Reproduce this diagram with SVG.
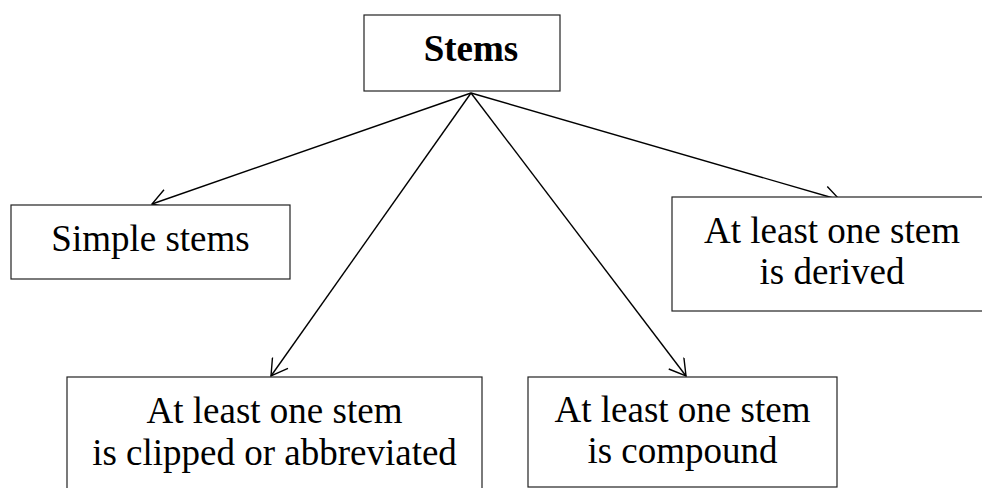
<svg xmlns="http://www.w3.org/2000/svg" width="982" height="488" viewBox="0 0 982 488">
  <defs>
    <style>
      .box { fill: #ffffff; stroke: #222222; stroke-width: 1.2; }
      .lbl { font-size: 37px; fill: #000000; text-anchor: middle; }
      .bold { font-weight: bold; }
      .edge { fill: none; stroke: #000000; stroke-width: 1.4; }
    </style>
    <marker id="open-arrow" markerWidth="20" markerHeight="20" refX="18" refY="10" orient="auto" markerUnits="userSpaceOnUse">
      <path d="M2,0.5 L18,10 L2,19.5" fill="none" stroke="#000000" stroke-width="1.4"/>
    </marker>
  </defs>

  <!-- connectors, drawn first so the boxes sit on top -->
  <g id="connectors">
    <line class="edge" x1="471" y1="93" x2="152" y2="204" marker-end="url(#open-arrow)"/>
    <line class="edge" x1="471" y1="93" x2="271" y2="376" marker-end="url(#open-arrow)"/>
    <line class="edge" x1="471" y1="93" x2="686" y2="376" marker-end="url(#open-arrow)"/>
    <line class="edge" x1="471" y1="93" x2="840" y2="200" marker-end="url(#open-arrow)"/>
  </g>

  <g font-family="'Liberation Serif', 'DejaVu Serif', serif">
    <g id="stems">
      <rect class="box" x="364" y="15" width="196" height="76"/>
      <text class="lbl bold" x="471" y="61">Stems</text>
    </g>

    <g id="simple">
      <rect class="box" x="11" y="205" width="279" height="74"/>
      <text class="lbl" x="150.5" y="251">Simple stems</text>
    </g>

    <g id="derived">
      <rect class="box" x="672" y="197" width="320" height="114"/>
      <text class="lbl" x="832" y="243">At least one stem</text>
      <text class="lbl" x="832" y="284">is derived</text>
    </g>

    <g id="clipped">
      <rect class="box" x="67" y="377" width="415" height="120"/>
      <text class="lbl" x="274.5" y="423">At least one stem</text>
      <text class="lbl" x="274.5" y="465">is clipped or abbreviated</text>
    </g>

    <g id="compound">
      <rect class="box" x="528" y="377" width="309" height="110"/>
      <text class="lbl" x="682.5" y="422">At least one stem</text>
      <text class="lbl" x="682.5" y="463">is compound</text>
    </g>
  </g>
</svg>
